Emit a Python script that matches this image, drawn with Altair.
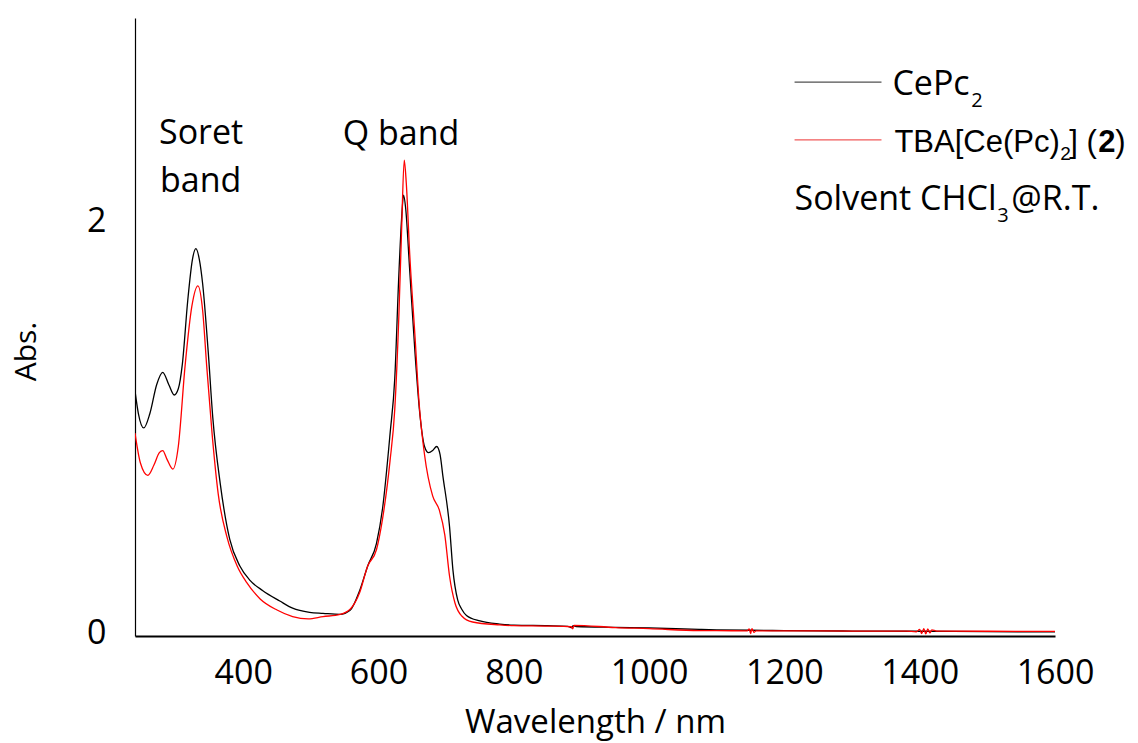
import altair as alt
import pandas as pd

# ---------------- data ----------------
wl_black = [240, 245, 253, 262, 272, 281, 290, 298, 304, 310, 318, 325, 330, 335, 340, 348, 355, 366, 380, 395,
            410, 429, 454, 473, 498, 518, 543, 558, 572, 584, 597, 606, 617, 624, 630, 634, 637, 640, 646, 654,
            661, 668, 674, 680, 686, 691, 695, 705, 710, 717, 723, 730, 750, 779, 800, 850, 880, 885, 888, 892,
            950, 1000, 1074, 1100, 1150, 1200, 1300, 1400, 1500, 1600]
abs_black = [1.19, 1.08, 1.01, 1.08, 1.22, 1.28, 1.22, 1.17, 1.20, 1.32, 1.63, 1.83, 1.88, 1.83, 1.71, 1.39, 1.06, 0.74, 0.47, 0.34,
             0.27, 0.22, 0.17, 0.135, 0.115, 0.11, 0.105, 0.125, 0.22, 0.34, 0.45, 0.62, 0.98, 1.25, 1.75, 2.02, 2.14, 2.08, 1.78, 1.37,
             1.08, 0.92, 0.89, 0.90, 0.92, 0.88, 0.78, 0.53, 0.32, 0.175, 0.13, 0.10, 0.073, 0.058, 0.053, 0.050, 0.047, 0.040, 0.050, 0.046,
             0.042, 0.039, 0.032, 0.030, 0.028, 0.026, 0.024, 0.023, 0.021, 0.020]

wl_red = [240, 248, 259, 268, 276, 281, 287, 296, 304, 314, 324, 333, 340, 346, 354, 363, 376, 391, 405, 425,
          450, 473, 496, 518, 543, 558, 572, 584, 597, 606, 617, 624, 630, 634, 638, 641, 646, 654, 660, 668,
          680, 690, 698, 705, 713, 723, 739, 779, 800, 850, 885, 887, 889, 950, 1000, 1074, 1100, 1145, 1148, 1150,
          1152, 1155, 1158, 1200, 1300, 1380, 1395, 1400, 1403, 1406, 1409, 1412, 1415, 1418, 1425, 1500, 1600]
abs_red = [0.985, 0.84, 0.78, 0.83, 0.89, 0.90, 0.86, 0.81, 0.92, 1.31, 1.60, 1.70, 1.58, 1.31, 0.98, 0.69, 0.48, 0.34, 0.26, 0.18,
           0.126, 0.094, 0.083, 0.094, 0.105, 0.13, 0.21, 0.34, 0.42, 0.57, 0.85, 1.10, 1.55, 1.96, 2.31, 2.20, 1.86, 1.45, 1.13, 0.88,
           0.68, 0.61, 0.49, 0.29, 0.16, 0.097, 0.068, 0.054, 0.050, 0.048, 0.045, 0.035, 0.052, 0.041, 0.036, 0.026, 0.026, 0.025, 0.035, 0.012,
           0.036, 0.018, 0.025, 0.025, 0.024, 0.024, 0.020, 0.032, 0.012, 0.036, 0.010, 0.035, 0.015, 0.030, 0.024, 0.023, 0.022]

x_ticks = [400, 600, 800, 1000, 1200, 1400, 1600]
y_ticks = [0, 2]

# band annotations
band_text = ["Soret", "band", "Q band"]
band_nm = [275.5, 277, 547]
band_abs = [2.388, 2.155, 2.383]

# custom legend (line samples)
leg_nm_start = [1215, 1215]
leg_nm_end = [1343.5, 1343.5]
leg_abs = [2.689, 2.408]
leg_color = ["#505050", "#f05a5a"]

# legend / note texts
sans_text = ["CePc", "Solvent CHCl", "@R.T."]
sans_nm = [1359.6, 1214.9, 1535.4]
sans_abs = [2.626, 2.068, 2.068]
sans_sub_text = ["2", "3"]
sans_sub_nm = [1476.3, 1514.7]
sans_sub_abs = [2.568, 2.010]

arial_text = ["TBA[Ce(Pc)", "] (", ")"]
arial_nm = [1362.6, 1621.1, 1689.0]
arial_abs = [2.35, 2.35, 2.35]
arial_sub_text = ["2"]
arial_sub_nm = [1607.8]
arial_sub_abs = [2.311]
arial_bold_text = ["2"]
arial_bold_nm = [1664.0]
arial_bold_abs = [2.35]

# ---------------- chart ----------------
X_DOMAIN = [240, 1600]
Y_DOMAIN = [0, 3]

xs = alt.Scale(domain=X_DOMAIN, nice=False, zero=False)
ys = alt.Scale(domain=Y_DOMAIN, nice=False, zero=False)

black_df = pd.DataFrame({"wl": wl_black, "abs": abs_black})
red_df = pd.DataFrame({"wl": wl_red, "abs": abs_red})

x_axis = alt.Axis(values=x_ticks, format="d", grid=False, ticks=False, tickSize=0,
                  labelFont="Open Sans", labelFontSize=34, labelColor="black", labelPadding=20,
                  labelFlush=False, labelOverlap=False,
                  domainColor="black", domainWidth=2,
                  title="Wavelength / nm", titleFont="Open Sans", titleFontSize=33,
                  titleFontWeight="normal", titleColor="black",
                  titleX=460, titleY=96, titleAlign="center", titleBaseline="alphabetic")
y_axis = alt.Axis(values=y_ticks, format="d", grid=False, ticks=False, tickSize=0,
                  labelFont="Open Sans", labelFontSize=34, labelColor="black", labelPadding=29,
                  labelAlign="right", labelBaseline="middle", labelOffset=-3,
                  labelFlush=False, labelOverlap=False,
                  domainColor="black", domainWidth=1.2,
                  title="Abs.", titleFont="Open Sans", titleFontSize=30,
                  titleFontWeight="normal", titleColor="black",
                  titleAngle=270, titleX=-109, titleY=333, titleAlign="center", titleBaseline="middle")

black = alt.Chart(black_df).mark_line(color="black", strokeWidth=1.3, interpolate="monotone", clip=True).encode(
    x=alt.X("wl:Q", scale=xs, axis=x_axis),
    y=alt.Y("abs:Q", scale=ys, axis=y_axis),
)
red = alt.Chart(red_df).mark_line(color="#ff0000", strokeWidth=1.3, interpolate="monotone", clip=True).encode(
    x=alt.X("wl:Q", scale=xs),
    y=alt.Y("abs:Q", scale=ys),
)

def text_layer(texts, nms, abss, font, size, weight="normal"):
    df = pd.DataFrame({"t": texts, "nm": nms, "a": abss})
    return alt.Chart(df).mark_text(font=font, fontSize=size, fontWeight=weight, color="black",
                                   align="left", baseline="alphabetic").encode(
        x=alt.X("nm:Q", scale=xs), y=alt.Y("a:Q", scale=ys), text="t:N")

bands = text_layer(band_text, band_nm, band_abs, "Open Sans", 34)
sans = text_layer(sans_text, sans_nm, sans_abs, "Open Sans", 34)
sans_sub = text_layer(sans_sub_text, sans_sub_nm, sans_sub_abs, "Open Sans", 20)
arial = text_layer(arial_text, arial_nm, arial_abs, "Liberation Sans", 31)
arial_sub = text_layer(arial_sub_text, arial_sub_nm, arial_sub_abs, "Liberation Sans", 19)
arial_bold = text_layer(arial_bold_text, arial_bold_nm, arial_bold_abs, "Liberation Sans", 31, "bold")

leg_df = pd.DataFrame({"x1": leg_nm_start, "x2": leg_nm_end, "a": leg_abs, "c": leg_color})
legend_lines = alt.Chart(leg_df).mark_rule(strokeWidth=1.2).encode(
    x=alt.X("x1:Q", scale=xs), x2="x2:Q", y=alt.Y("a:Q", scale=ys),
    color=alt.Color("c:N", scale=None),
)

chart = alt.layer(black, red, legend_lines, bands, sans, sans_sub, arial, arial_sub, arial_bold).properties(
    width=920, height=618,
    padding={"left": 135, "top": 18, "right": 83, "bottom": 107},
    autosize=alt.AutoSizeParams(type="none"),
    background="white",
).configure_view(stroke=None)

chart.save("out.html", embed_options={"renderer": "svg", "actions": False})
